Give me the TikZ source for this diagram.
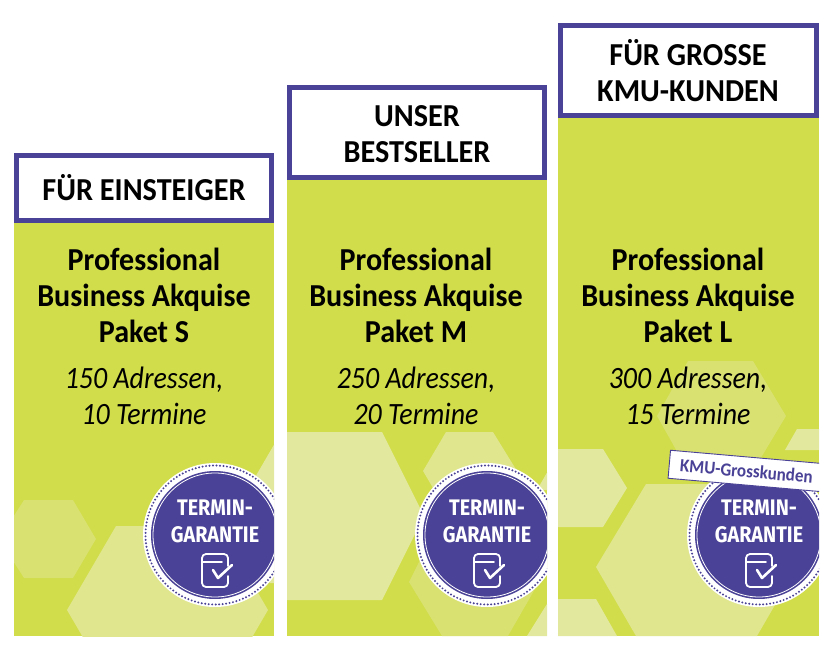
\documentclass[tikz,border=0pt]{standalone}
\usepackage{fontspec}
\setmainfont{Carlito}
\newfontfamily\badgefont[FakeStretch=0.88]{Fira Sans}
\newfontfamily\titlefont[FakeStretch=0.94]{Carlito}
\newfontfamily\headfont[FakeStretch=0.945]{Carlito}
\newfontfamily\detailfont[FakeStretch=0.9]{Carlito}
\newfontfamily\tagfont[FakeStretch=0.92]{Carlito}
\definecolor{leaf}{HTML}{D1DD4A}
\definecolor{hexa}{HTML}{D9E170}
\definecolor{hexb}{HTML}{DFE68E}
\definecolor{hexc}{HTML}{E2E99F}
\definecolor{royal}{HTML}{4A4296}
\tikzset{
  column/.style={fill=leaf,draw=none},
  headbox/.style={draw=royal,line width=5pt,fill=white,inner sep=0pt,minimum width=255pt},
  headtext/.style={align=center,text=black,inner sep=0pt,font=\fontsize{32}{36}\selectfont\headfont\bfseries},
  title/.style={align=center,text=black,inner sep=0pt,font=\fontsize{32}{36}\selectfont\titlefont\bfseries},
  detail/.style={align=center,text=black,inner sep=0pt,font=\fontsize{31}{36}\selectfont\detailfont\itshape},
  badgetext/.style={align=center,text=white,inner sep=0pt,font=\fontsize{22.5}{27}\selectfont\badgefont\bfseries},
  icon/.style={draw=white,line width=1.8pt,line cap=round,line join=round},
  tag/.style={draw=royal,line width=0.9pt,fill=white,rotate=-5,inner xsep=11pt,inner ysep=7.5pt,text=royal,font=\fontsize{18.5}{20}\selectfont\tagfont\bfseries}
}
\newcommand{\mybadge}[2]{%
  \begin{scope}[shift={(#2,535)}]
    \fill[white] (0,0) circle[radius=72];
    \draw[royal,line width=2.2pt,line cap=round,dash pattern=on 0pt off 3.5pt] (0,0) circle[radius=69.5];
    \fill[royal] (0,0) circle[radius=64];
    \draw[white,line width=0.8pt] (0,0) circle[radius=62];
    \node[badgetext] (#1text) at (0,-14) {TERMIN-\\GARANTIE};
    \draw[icon,rounded corners=4pt] (13,31) -- (13,19) -- (-13,19) -- (-13,52) -- (13,52) -- (13,41);
    \draw[icon] (-13,27) -- (7,27);
    \draw[icon,line width=2.6pt] (-2,35) -- (3,43) -- (17,30);
  \end{scope}}
\begin{document}
\begin{tikzpicture}[x=1pt,y=-1pt]
\useasboundingbox (0,0) rectangle (833,650);
% column S
\begin{scope}
  \clip (14,200) rectangle (274,636);
  \fill[column] (14,200) rectangle (274,636);
  \fill[hexa] (-1,539) -- (24,500) -- (73,500) -- (96,539) -- (73,578) -- (24,578) -- cycle;
  \fill[hexb] (67,610) -- (116,526) -- (219,526) -- (268,610) -- (219,694) -- (116,694) -- cycle;
  \fill[hexc] (300,400) -- (250,486) -- (250,530) -- (270,583) -- (300,583) -- cycle;
  \mybadge{s}{215}
\end{scope}
% column M
\begin{scope}
  \clip (287,170) rectangle (547,636);
  \fill[column] (287,170) rectangle (547,636);
  \fill[hexc] (240,432) -- (382,432) -- (424,516) -- (382,600) -- (240,600) -- cycle;
  \fill[hexb] (423,471) -- (446,432) -- (493,432) -- (517,471) -- (493,510) -- (446,510) -- cycle;
  \fill[hexa] (409,582) -- (442,636) -- (508,636) -- (547,568) -- (547,500) -- (440,520) -- cycle;
  \fill[hexc] (537,490) -- (560,450) -- (560,490) -- cycle;
  \fill[hexc] (527,636) -- (547,604) -- (547,636) -- cycle;
  \mybadge{m}{487}
\end{scope}
% column L
\begin{scope}
  \clip (558,100) rectangle (819,636);
  \fill[column] (558,100) rectangle (819,636);
  \fill[hexa] (657,416) -- (688,361) -- (753,361) -- (786,416) -- (753,471) -- (688,471) -- cycle;
  \fill[hexc] (540,449) -- (603,449) -- (627,488) -- (603,527) -- (540,527) -- cycle;
  \fill[hexb] (596,567) -- (646,484) -- (747,484) -- (797,567) -- (757,636) -- (636,636) -- cycle;
  \fill[hexc] (540,599) -- (596,599) -- (617,636) -- (540,636) -- cycle;
  \fill[hexc] (785,450) -- (797,429) -- (830,429) -- (830,450) -- cycle;
  \mybadge{l}{759}
  \node[tag] (ltag) at (746.5,471) {KMU-Grosskunden};
\end{scope}
% header boxes
\node[headbox,minimum height=64pt] (hs) at (144,188) {};
\node[headbox,minimum height=90pt] (hm) at (416.5,132.5) {};
\node[headbox,minimum height=90pt,minimum width=256pt] (hl) at (688.5,70.5) {};
\node[headtext] (hst) at (144,187.5) {FÜR EINSTEIGER};
\node[headtext] (hmt) at (417,134) {UNSER\\BESTSELLER};
\node[headtext] (hlt) at (688,71) {FÜR GROSSE\\KMU-KUNDEN};
% texts
\node[title] (ts) at (144,295) {Professional\\Business Akquise\\Paket S};
\node[title] (tm) at (416,295) {Professional\\Business Akquise\\Paket M};
\node[title] (tl) at (688,295) {Professional\\Business Akquise\\Paket L};
\node[detail] (ds) at (144,396) {150 Adressen,\\10 Termine};
\node[detail] (dm) at (416,396) {250 Adressen,\\20 Termine};
\node[detail] (dl) at (688,396) {300 Adressen,\\15 Termine};
\end{tikzpicture}
\end{document}
